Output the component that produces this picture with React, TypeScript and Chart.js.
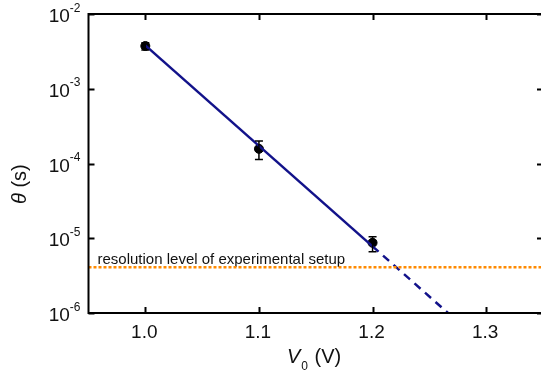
import { useEffect, useRef } from 'react';
import { Chart, registerables } from 'chart.js';

Chart.register(...registerables);

// ---- data ----
const voltages = [1.0, 1.1, 1.2];
const theta = [3.73e-3, 1.57e-4, 8.7e-6];
const thetaHigh = [4.14e-3, 2.0e-4, 1.05e-5];
const thetaLow = [3.3e-3, 1.13e-4, 6.6e-6];

const fitSolidX = [1.0, 1.2];
const fitSolidY = [3.8e-3, 7.8e-6];
const fitDashX = [1.2, 1.2664];
const fitDashY = [7.8e-6, 1.0e-6];

const resolutionLevel = 4.1e-6;
const resolutionLabel = 'resolution level of experimental setup';

const xTicks = [1.0, 1.1, 1.2, 1.3];
const xTickLabels = ['1.0', '1.1', '1.2', '1.3'];
const yTicks = [1e-2, 1e-3, 1e-4, 1e-5, 1e-6];
const yTickExponents = ['-2', '-3', '-4', '-5', '-6'];
const xRange = [0.95, 1.35];
const yRange = [1e-6, 1e-2];

const FONT = '"Liberation Sans", Arial, sans-serif';

const framePlugin = {
  id: 'framePlugin',
  beforeDatasetsDraw(chart: any) {
    const { ctx } = chart;
    const ys = chart.scales.y;
    const area = chart.chartArea;
    const ly = ys.getPixelForValue(resolutionLevel);
    ctx.save();
    ctx.fillStyle = '#111';
    ctx.font = `15px ${FONT}`;
    ctx.textAlign = 'left';
    ctx.textBaseline = 'alphabetic';
    ctx.fillText(resolutionLabel, area.left + 9, ly - 3);
    ctx.restore();
  },
  afterDatasetsDraw(chart: any) {
    const { ctx } = chart;
    const xs = chart.scales.x;
    const ys = chart.scales.y;
    ctx.save();
    ctx.strokeStyle = '#000';
    ctx.lineWidth = 1.5;
    voltages.forEach((v, i) => {
      const px = xs.getPixelForValue(v);
      const hi = ys.getPixelForValue(thetaHigh[i]);
      const lo = ys.getPixelForValue(thetaLow[i]);
      ctx.beginPath();
      ctx.moveTo(px, hi);
      ctx.lineTo(px, lo);
      ctx.moveTo(px - 4, hi);
      ctx.lineTo(px + 4, hi);
      ctx.moveTo(px - 4, lo);
      ctx.lineTo(px + 4, lo);
      ctx.stroke();
    });
    ctx.restore();
  },
  afterDraw(chart: any) {
    const { ctx } = chart;
    const xs = chart.scales.x;
    const ys = chart.scales.y;
    const a = chart.chartArea;
    ctx.save();
    ctx.strokeStyle = '#000';
    ctx.lineWidth = 2;
    ctx.strokeRect(a.left, a.top, a.right - a.left, a.bottom - a.top);
    const tl = 6;
    ctx.beginPath();
    xTicks.forEach((t) => {
      const px = Math.round(xs.getPixelForValue(t)) + 0.5;
      ctx.moveTo(px, a.bottom);
      ctx.lineTo(px, a.bottom - tl);
      ctx.moveTo(px, a.top);
      ctx.lineTo(px, a.top + tl);
    });
    yTicks.forEach((t) => {
      const py = Math.round(ys.getPixelForValue(t)) + 0.5;
      ctx.moveTo(a.left, py);
      ctx.lineTo(a.left + tl, py);
      ctx.moveTo(a.right, py);
      ctx.lineTo(a.right - tl, py);
    });
    ctx.stroke();

    // x tick labels
    ctx.fillStyle = '#111';
    ctx.font = `19px ${FONT}`;
    ctx.textAlign = 'center';
    ctx.textBaseline = 'alphabetic';
    xTicks.forEach((t, i) => {
      ctx.fillText(xTickLabels[i], xs.getPixelForValue(t) - 1, a.bottom + 25);
    });

    // y tick labels 10^n
    yTicks.forEach((t, i) => {
      const py = ys.getPixelForValue(t);
      ctx.font = `12px ${FONT}`;
      const sw = ctx.measureText(yTickExponents[i]).width;
      const right = a.left - 8;
      ctx.textAlign = 'left';
      ctx.fillText(yTickExponents[i], right - sw, py - 2.5);
      ctx.font = `19px ${FONT}`;
      ctx.textAlign = 'right';
      ctx.fillText('10', right - sw, py + 8);
    });

    // x title: V0 (V)
    ctx.textAlign = 'left';
    ctx.font = `italic 20px ${FONT}`;
    let x = 287;
    const by = a.bottom + 50;
    ctx.fillText('V', x, by);
    x += ctx.measureText('V').width + 1;
    ctx.font = `12px ${FONT}`;
    ctx.fillText('0', x, by + 7);
    x += ctx.measureText('0').width + 1;
    ctx.font = `20px ${FONT}`;
    ctx.fillText(' (V)', x, by);

    // y title: theta (s)
    ctx.save();
    ctx.translate(26, 204);
    ctx.rotate(-Math.PI / 2);
    ctx.textAlign = 'left';
    ctx.font = `italic 20px ${FONT}`;
    ctx.fillText('\u03b8', 0, 0);
    const tw = ctx.measureText('\u03b8').width;
    ctx.font = `20px ${FONT}`;
    ctx.fillText(' (s)', tw, 0);
    ctx.restore();

    ctx.restore();
  },
};

export default function App() {
  const ref = useRef<HTMLCanvasElement | null>(null);
  useEffect(() => {
    if (!ref.current) return;
    const chart = new Chart(ref.current, {
      type: 'scatter',
      data: {
        datasets: [
          {
            label: 'resolution',
            data: xRange.map((x) => ({ x, y: resolutionLevel })),
            showLine: true,
            borderColor: '#ff8a00',
            borderWidth: 2.5,
            borderDash: [3, 2],
            pointRadius: 0,
          },
          {
            label: 'fit',
            data: fitSolidX.map((x, i) => ({ x, y: fitSolidY[i] })),
            showLine: true,
            borderColor: '#12128a',
            borderWidth: 2.5,
            pointRadius: 0,
          },
          {
            label: 'fit extrapolated',
            data: fitDashX.map((x, i) => ({ x, y: fitDashY[i] })),
            showLine: true,
            borderColor: '#12128a',
            borderWidth: 2.5,
            borderDash: [8, 6],
            pointRadius: 0,
          },
          {
            label: 'data',
            data: voltages.map((x, i) => ({ x, y: theta[i] })),
            showLine: false,
            backgroundColor: '#000',
            borderColor: '#000',
            pointRadius: 4.5,
          },
        ],
      },
      options: {
        responsive: false,
        animation: false,
        layout: { autoPadding: false, padding: { left: 88.5, top: 14, right: 0, bottom: 62 } },
        plugins: { legend: { display: false }, tooltip: { enabled: false } },
        scales: {
          x: { type: 'linear', display: false, min: xRange[0], max: xRange[1] },
          y: { type: 'logarithmic', display: false, min: yRange[0], max: yRange[1] },
        },
      },
      plugins: [framePlugin],
    });
    return () => chart.destroy();
  }, []);
  return (
    <div style={{ position: 'absolute', left: 0, top: 0, width: 541, height: 375, overflow: 'hidden', background: '#fff' }}>
      <canvas ref={ref} width={543} height={375} style={{ width: 543, height: 375, display: 'block' }} />
    </div>
  );
}
